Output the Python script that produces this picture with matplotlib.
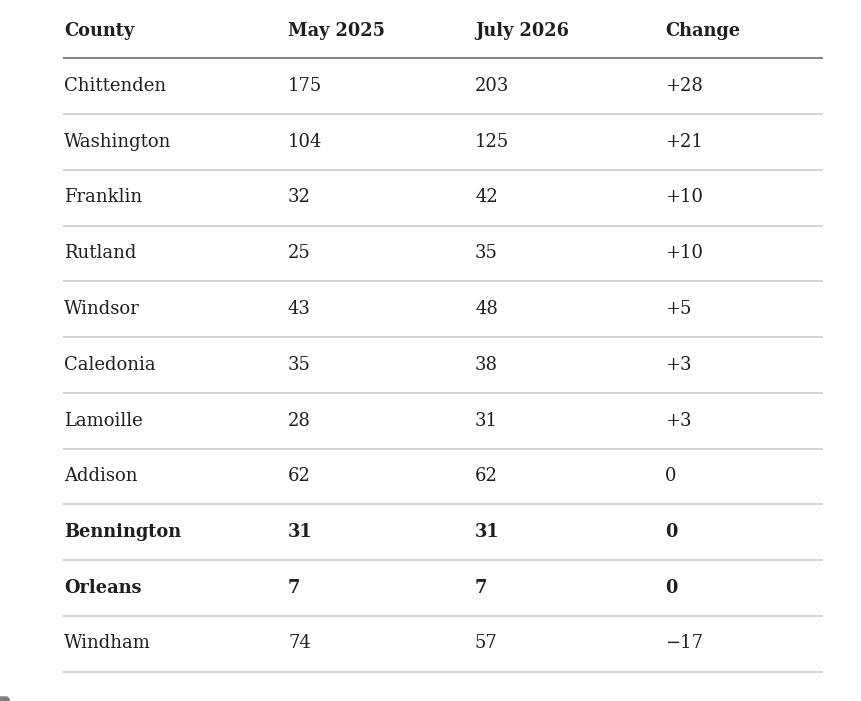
import matplotlib.pyplot as plt
from matplotlib.patches import FancyBboxPatch

# table data
headers = ["County", "May 2025", "July 2026", "Change"]
counties = ["Chittenden", "Washington", "Franklin", "Rutland", "Windsor",
            "Caledonia", "Lamoille", "Addison", "Bennington", "Orleans", "Windham"]
may_2025 = [175, 104, 32, 25, 43, 35, 28, 62, 31, 7, 74]
july_2026 = [203, 125, 42, 35, 48, 38, 31, 62, 31, 7, 57]
change = ["+28", "+21", "+10", "+10", "+5", "+3", "+3", "0", "0", "0", "\u221217"]
bold_rows = ["Bennington", "Orleans"]

W, H = 861, 701
fig = plt.figure(figsize=(W / 100, H / 100), dpi=100)
ax = fig.add_axes([0, 0, 1, 1])
ax.set_xlim(0, W)
ax.set_ylim(H, 0)
ax.axis("off")

col_x = [64, 288, 475, 665]
line_x0, line_x1 = 63, 823
header_y = 31
row0_y = 86
row_h = 55.75
text_col = "#1f1f1f"
font = ["DejaVu Serif"]
fs = 13
fs_bold = 12.8

for x, h in zip(col_x, headers):
    ax.text(x, header_y, h, ha="left", va="center", fontsize=fs_bold,
            fontweight="bold", color=text_col, family=font)
ax.plot([line_x0, line_x1], [row0_y - 28] * 2, color="#7a7a7a", lw=1.3,
        solid_capstyle="butt")

for i, name in enumerate(counties):
    y = row0_y + i * row_h
    bold = name in bold_rows
    vals = [name, str(may_2025[i]), str(july_2026[i]), change[i]]
    for x, v in zip(col_x, vals):
        ax.text(x, y, v, ha="left", va="center",
                fontsize=fs_bold if bold else fs,
                fontweight="bold" if bold else "normal",
                color=text_col, family=font)
    ax.plot([line_x0, line_x1], [y + 28] * 2, color="#c8c8c8", lw=1.1,
            solid_capstyle="butt")

# cut-off widget in the lower left corner
ax.add_patch(FancyBboxPatch((-6, 697), 15, 12, boxstyle="round,pad=0,rounding_size=3",
                            color="#7c7c7c", clip_on=True))

fig.savefig("out.png", dpi=100)
